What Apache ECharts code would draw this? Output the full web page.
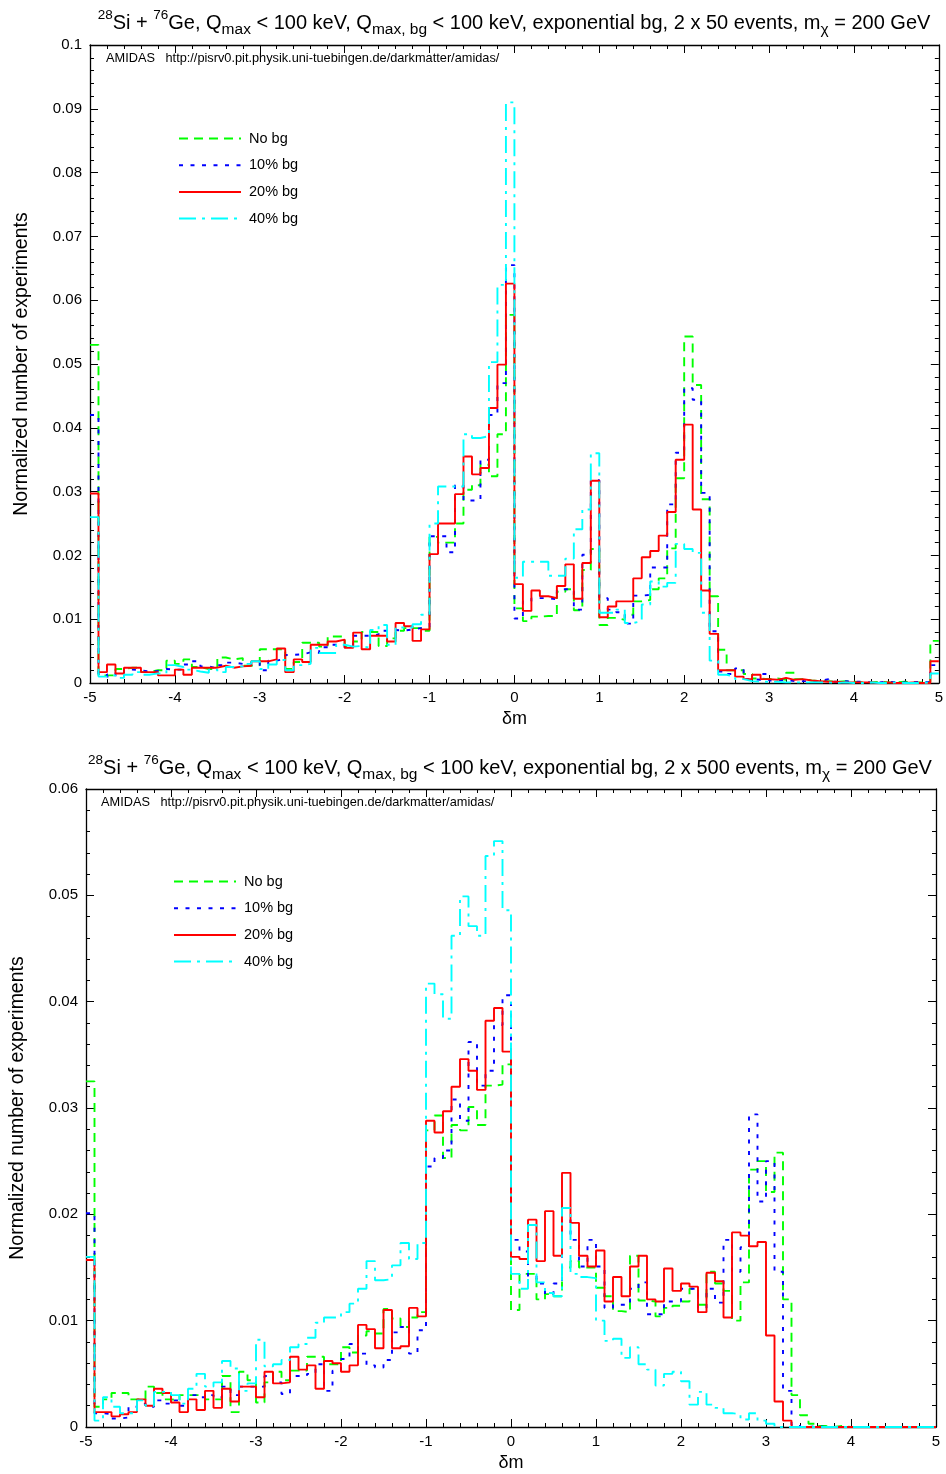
<!DOCTYPE html>
<html>
<head>
    <meta charset="utf-8" />
    <title>AMIDAS delta m</title>
    <script src="https://cdn.jsdelivr.net/npm/echarts@6/dist/echarts.min.js"></script>
    <style>
        html, body { margin: 0; padding: 0; background: #fff; }
        #chart { width: 946px; height: 1474px; }
    </style>
</head>
<body>
<div id="chart"></div>
<script>
    // bins: 100 bins of width 0.1 from -5 to 5
    var binLo = -5, binHi = 5, binW = 0.1;
    var legendNames = ['No bg', '10% bg', '20% bg', '40% bg'];
    var xTicks = [-5, -4, -3, -2, -1, 0, 1, 2, 3, 4, 5];

    // ---- upper panel: 2 x 50 events ----
    var top_nobg = [
        0.0530, 0.0012, 0.0012, 0.0022, 0.0024, 0.0024, 0.0017, 0.0020, 0.0020, 0.0035,
        0.0030, 0.0037, 0.0025, 0.0022, 0.0022, 0.0040, 0.0037, 0.0039, 0.0027, 0.0028,
        0.0053, 0.0053, 0.0053, 0.0022, 0.0033, 0.0063, 0.0063, 0.0057, 0.0073, 0.0073,
        0.0058, 0.0065, 0.0080, 0.0080, 0.0058, 0.0070, 0.0082, 0.0086, 0.0086, 0.0082,
        0.0229, 0.0220, 0.0220, 0.0250, 0.0303, 0.0310, 0.0342, 0.0324, 0.0390, 0.0577,
        0.0117, 0.0097, 0.0104, 0.0105, 0.0105, 0.0143, 0.0147, 0.0114, 0.0177, 0.0210,
        0.0091, 0.0102, 0.0099, 0.0107, 0.0128, 0.0130, 0.0147, 0.0164, 0.0211, 0.0321,
        0.0543, 0.0467, 0.0288, 0.0136, 0.0052, 0.0020, 0.0020, 0.0014, 0.0007, 0.0006,
        0.0007, 0.0005, 0.0016, 0.0006, 0.0004, 0.0003, 0.0003, 0.0002, 0.0003, 0.0002,
        0.0001, 0.0001, 0.0002, 0.0001, 0.0001, 0.0002, 0.0001, 0.0001, 0.0002, 0.0066
    ];
    var top_bg10 = [
        0.0420, 0.0014, 0.0010, 0.0016, 0.0021, 0.0020, 0.0018, 0.0019, 0.0022, 0.0021,
        0.0021, 0.0029, 0.0034, 0.0026, 0.0023, 0.0028, 0.0032, 0.0030, 0.0028, 0.0032,
        0.0020, 0.0035, 0.0038, 0.0044, 0.0045, 0.0048, 0.0047, 0.0056, 0.0060, 0.0060,
        0.0056, 0.0074, 0.0074, 0.0076, 0.0082, 0.0083, 0.0082, 0.0084, 0.0086, 0.0088,
        0.0230, 0.0230, 0.0205, 0.0310, 0.0286, 0.0286, 0.0350, 0.0420, 0.0470, 0.0655,
        0.0101, 0.0128, 0.0133, 0.0133, 0.0131, 0.0147, 0.0147, 0.0115, 0.0201, 0.0318,
        0.0133, 0.0115, 0.0111, 0.0093, 0.0137, 0.0138, 0.0181, 0.0181, 0.0280, 0.0361,
        0.0462, 0.0444, 0.0298, 0.0081, 0.0018, 0.0014, 0.0023, 0.0006, 0.0005, 0.0014,
        0.0004, 0.0005, 0.0003, 0.0003, 0.0003, 0.0003, 0.0006, 0.0002, 0.0003, 0.0002,
        0.0002, 0.0001, 0.0001, 0.0002, 0.0001, 0.0001, 0.0001, 0.0002, 0.0001, 0.0028
    ];
    var top_bg20 = [
        0.0297, 0.0017, 0.0029, 0.0015, 0.0024, 0.0024, 0.0017, 0.0017, 0.0012, 0.0012,
        0.0021, 0.0013, 0.0024, 0.0024, 0.0024, 0.0027, 0.0024, 0.0026, 0.0027, 0.0034,
        0.0034, 0.0037, 0.0054, 0.0017, 0.0037, 0.0033, 0.0060, 0.0060, 0.0065, 0.0068,
        0.0055, 0.0079, 0.0053, 0.0074, 0.0074, 0.0065, 0.0094, 0.0089, 0.0066, 0.0084,
        0.0202, 0.0250, 0.0250, 0.0296, 0.0355, 0.0327, 0.0337, 0.0431, 0.0499, 0.0626,
        0.0155, 0.0113, 0.0145, 0.0136, 0.0133, 0.0152, 0.0186, 0.0132, 0.0188, 0.0317,
        0.0103, 0.0120, 0.0128, 0.0128, 0.0164, 0.0197, 0.0207, 0.0231, 0.0268, 0.0350,
        0.0405, 0.0272, 0.0145, 0.0077, 0.0020, 0.0020, 0.0010, 0.0006, 0.0013, 0.0006,
        0.0005, 0.0008, 0.0005, 0.0006, 0.0004, 0.0003, 0.0002, 0.0002, 0.0001, 0.0001,
        0.0001, 0.0001, 0.0000, 0.0001, 0.0000, 0.0000, 0.0001, 0.0000, 0.0000, 0.0034
    ];
    var top_bg40 = [
        0.0260, 0.0010, 0.0012, 0.0008, 0.0013, 0.0017, 0.0013, 0.0015, 0.0015, 0.0028,
        0.0025, 0.0021, 0.0018, 0.0016, 0.0021, 0.0017, 0.0025, 0.0026, 0.0030, 0.0034,
        0.0022, 0.0029, 0.0036, 0.0020, 0.0028, 0.0030, 0.0055, 0.0047, 0.0047, 0.0060,
        0.0057, 0.0058, 0.0055, 0.0083, 0.0091, 0.0060, 0.0087, 0.0087, 0.0092, 0.0107,
        0.0250, 0.0308, 0.0308, 0.0308, 0.0390, 0.0384, 0.0387, 0.0503, 0.0624, 0.0910,
        0.0165, 0.0190, 0.0190, 0.0190, 0.0168, 0.0168, 0.0195, 0.0241, 0.0272, 0.0360,
        0.0110, 0.0110, 0.0115, 0.0094, 0.0097, 0.0123, 0.0159, 0.0151, 0.0157, 0.0218,
        0.0210, 0.0204, 0.0110, 0.0035, 0.0013, 0.0010, 0.0006, 0.0003, 0.0002, 0.0002,
        0.0002, 0.0001, 0.0001, 0.0001, 0.0001, 0.0001, 0.0001, 0.0000, 0.0001, 0.0000,
        0.0000, 0.0001, 0.0000, 0.0000, 0.0001, 0.0000, 0.0000, 0.0000, 0.0001, 0.0015
    ];

    // ---- lower panel: 2 x 500 events ----
    var bot_nobg = [
        0.0325, 0.0019, 0.0026, 0.0032, 0.0032, 0.0026, 0.0026, 0.0038, 0.0032, 0.0026,
        0.0025, 0.0030, 0.0030, 0.0030, 0.0026, 0.0026, 0.0048, 0.0014, 0.0052, 0.0044,
        0.0023, 0.0042, 0.0052, 0.0044, 0.0053, 0.0053, 0.0066, 0.0066, 0.0059, 0.0059,
        0.0075, 0.0070, 0.0086, 0.0090, 0.0088, 0.0111, 0.0102, 0.0094, 0.0103, 0.0108,
        0.0279, 0.0293, 0.0253, 0.0284, 0.0279, 0.0301, 0.0284, 0.0321, 0.0322, 0.0341,
        0.0110, 0.0144, 0.0144, 0.0120, 0.0125, 0.0123, 0.0150, 0.0156, 0.0150, 0.0150,
        0.0131, 0.0123, 0.0109, 0.0108, 0.0161, 0.0119, 0.0118, 0.0104, 0.0112, 0.0114,
        0.0118, 0.0130, 0.0115, 0.0146, 0.0135, 0.0128, 0.0100, 0.0136, 0.0242, 0.0250,
        0.0221, 0.0258, 0.0120, 0.0030, 0.0011, 0.0003, 0.0001, 0.0000, 0.0001, 0.0000,
        0.0000, 0.0000, 0.0000, 0.0000, 0.0000, 0.0000, 0.0000, 0.0000, 0.0000, 0.0000
    ];
    var bot_bg10 = [
        0.0201, 0.0013, 0.0012, 0.0008, 0.0009, 0.0019, 0.0022, 0.0019, 0.0025, 0.0022,
        0.0025, 0.0020, 0.0030, 0.0028, 0.0030, 0.0028, 0.0038, 0.0030, 0.0038, 0.0038,
        0.0038, 0.0048, 0.0042, 0.0031, 0.0048, 0.0048, 0.0050, 0.0059, 0.0034, 0.0053,
        0.0064, 0.0078, 0.0069, 0.0058, 0.0056, 0.0063, 0.0089, 0.0094, 0.0069, 0.0091,
        0.0245, 0.0253, 0.0260, 0.0308, 0.0288, 0.0362, 0.0321, 0.0335, 0.0378, 0.0406,
        0.0176, 0.0165, 0.0142, 0.0135, 0.0125, 0.0135, 0.0195, 0.0176, 0.0151, 0.0176,
        0.0151, 0.0112, 0.0115, 0.0115, 0.0130, 0.0136, 0.0106, 0.0106, 0.0118, 0.0118,
        0.0130, 0.0130, 0.0112, 0.0130, 0.0117, 0.0176, 0.0146, 0.0169, 0.0294, 0.0212,
        0.0250, 0.0146, 0.0034, 0.0002, 0.0000, 0.0001, 0.0000, 0.0000, 0.0000, 0.0000,
        0.0000, 0.0000, 0.0000, 0.0000, 0.0000, 0.0000, 0.0000, 0.0000, 0.0000, 0.0000
    ];
    var bot_bg20 = [
        0.0157, 0.0014, 0.0014, 0.0010, 0.0012, 0.0014, 0.0026, 0.0020, 0.0036, 0.0032,
        0.0023, 0.0014, 0.0026, 0.0016, 0.0034, 0.0018, 0.0036, 0.0024, 0.0038, 0.0038,
        0.0028, 0.0052, 0.0041, 0.0042, 0.0066, 0.0054, 0.0058, 0.0036, 0.0062, 0.0060,
        0.0052, 0.0058, 0.0096, 0.0092, 0.0074, 0.0110, 0.0074, 0.0076, 0.0112, 0.0104,
        0.0288, 0.0277, 0.0297, 0.0320, 0.0346, 0.0335, 0.0317, 0.0382, 0.0394, 0.0353,
        0.0160, 0.0158, 0.0195, 0.0156, 0.0203, 0.0161, 0.0239, 0.0192, 0.0161, 0.0151,
        0.0166, 0.0118, 0.0141, 0.0123, 0.0151, 0.0161, 0.0120, 0.0118, 0.0149, 0.0128,
        0.0135, 0.0132, 0.0108, 0.0145, 0.0137, 0.0103, 0.0183, 0.0180, 0.0170, 0.0174,
        0.0086, 0.0024, 0.0006, 0.0000, 0.0000, 0.0000, 0.0000, 0.0000, 0.0000, 0.0000,
        0.0000, 0.0000, 0.0000, 0.0000, 0.0000, 0.0000, 0.0000, 0.0000, 0.0000, 0.0000
    ];
    var bot_bg40 = [
        0.0160, 0.0006, 0.0028, 0.0019, 0.0013, 0.0013, 0.0025, 0.0020, 0.0033, 0.0033,
        0.0030, 0.0022, 0.0036, 0.0050, 0.0038, 0.0042, 0.0062, 0.0055, 0.0034, 0.0041,
        0.0082, 0.0057, 0.0059, 0.0063, 0.0075, 0.0078, 0.0084, 0.0098, 0.0103, 0.0103,
        0.0108, 0.0116, 0.0130, 0.0156, 0.0138, 0.0139, 0.0152, 0.0173, 0.0158, 0.0173,
        0.0417, 0.0407, 0.0384, 0.0462, 0.0499, 0.0471, 0.0462, 0.0537, 0.0551, 0.0486,
        0.0144, 0.0130, 0.0190, 0.0136, 0.0126, 0.0123, 0.0206, 0.0144, 0.0141, 0.0140,
        0.0100, 0.0081, 0.0083, 0.0065, 0.0075, 0.0059, 0.0054, 0.0039, 0.0050, 0.0052,
        0.0043, 0.0021, 0.0033, 0.0021, 0.0018, 0.0013, 0.0012, 0.0007, 0.0013, 0.0006,
        0.0003, 0.0000, 0.0000, 0.0000, 0.0000, 0.0000, 0.0000, 0.0000, 0.0000, 0.0000,
        0.0000, 0.0000, 0.0000, 0.0000, 0.0000, 0.0000, 0.0000, 0.0000, 0.0000, 0.0000
    ];

    var FONT = 'Liberation Sans';
    var colors = ['#00ff00', '#0000ff', '#ff0000', '#00ffff'];
    var dashes = [[9, 6], [4, 7.5], 'solid', [17, 6, 3, 6]];

    // histogram as step line: left bin edges + closing point at the last edge
    function steps(vals) {
        var pts = vals.map(function (v, i) {
            return [+(binLo + i * binW).toFixed(2), v];
        });
        pts.push([binHi, vals[vals.length - 1]]);
        return pts;
    }

    function histSeries(name, idx, vals, axisIdx) {
        return {
            name: name,
            type: 'line',
            step: 'end',
            xAxisIndex: axisIdx,
            yAxisIndex: axisIdx,
            data: steps(vals),
            symbol: 'none',
            showSymbol: false,
            silent: true,
            animation: false,
            lineStyle: { color: colors[idx], width: 1.9, type: dashes[idx] },
            itemStyle: { color: colors[idx] }
        };
    }

    function xAx(grid, main) {
        return {
            type: 'value', gridIndex: grid, min: binLo, max: binHi, interval: 1,
            position: main ? 'bottom' : 'top',
            name: main ? 'δm' : '', nameLocation: 'middle', nameGap: 27,
            nameTextStyle: { fontFamily: FONT, fontSize: 18, color: '#000' },
            axisLine: { show: true, onZero: false, lineStyle: { color: '#000', width: 1.3 } },
            axisTick: { show: true, inside: true, length: 8, lineStyle: { color: '#000' } },
            minorTick: { show: true, splitNumber: 5, length: 4, lineStyle: { color: '#000' } },
            axisLabel: { show: main, fontFamily: FONT, fontSize: 15, color: '#000', margin: 7,
                         formatter: function (v) { return xTicks.indexOf(v) >= 0 ? String(v) : ''; } },
            splitLine: { show: false }
        };
    }

    function yAx(grid, main, ymax) {
        return {
            type: 'value', gridIndex: grid, min: 0, max: ymax, interval: 0.01,
            position: main ? 'left' : 'right',
            name: main ? 'Normalized number of experiments' : '', nameLocation: 'middle', nameGap: 58,
            nameTextStyle: { fontFamily: FONT, fontSize: 19.5, color: '#000' },
            axisLine: { show: true, onZero: false, lineStyle: { color: '#000', width: 1.3 } },
            axisTick: { show: true, inside: true, length: 8, lineStyle: { color: '#000' } },
            minorTick: { show: true, splitNumber: 5, length: 4, lineStyle: { color: '#000' } },
            axisLabel: { show: main, fontFamily: FONT, fontSize: 15, color: '#000', margin: 8,
                         formatter: function (v) { return String(+v.toFixed(3)); } },
            splitLine: { show: false }
        };
    }

    var richTitle = {
        n: { fontFamily: FONT, fontSize: 20, fontWeight: 'normal', color: '#000', lineHeight: 30 },
        sup: { fontFamily: FONT, fontSize: 13.5, fontWeight: 'normal', color: '#000', verticalAlign: 'top', lineHeight: 15 },
        sub: { fontFamily: FONT, fontSize: 15.5, fontWeight: 'normal', color: '#000', verticalAlign: 'bottom', lineHeight: 10 }
    };
    function titleText(events) {
        return '{sup|28}{n|Si + }{sup|76}{n|Ge, Q}{sub|max}{n| < 100 keV, Q}{sub|max, bg}' +
            '{n| < 100 keV, exponential bg, 2 x ' + events + ' events, m}{sub|χ}{n| = 200 GeV}';
    }
    var amidas = 'AMIDAS   http://pisrv0.pit.physik.uni-tuebingen.de/darkmatter/amidas/';
    var amidasStyle = { fontFamily: FONT, fontSize: 12.75, fontWeight: 'normal', color: '#000' };

    function legendAt(left, top) {
        return {
            data: legendNames, orient: 'vertical', left: left, top: top, padding: 0,
            itemWidth: 62, itemHeight: 14, itemGap: 11.7,
            itemStyle: { opacity: 0 },
            textStyle: { fontFamily: FONT, fontSize: 14.5, color: '#000', padding: [0, 0, 0, 3] },
            selectedMode: false
        };
    }

    var chart = echarts.init(document.getElementById('chart'), null, { renderer: 'canvas' });
    var option = {
        backgroundColor: '#fff',
        animation: false,
        title: [
            { text: titleText(50), left: 514, top: 8, padding: 0, textAlign: 'center', textStyle: { rich: richTitle } },
            { text: titleText(500), left: 510, top: 753, padding: 0, textAlign: 'center', textStyle: { rich: richTitle } },
            { text: amidas, left: 106, top: 52, padding: 0, textStyle: amidasStyle },
            { text: amidas, left: 101, top: 796, padding: 0, textStyle: amidasStyle }
        ],
        legend: [legendAt(178, 131), legendAt(173, 874)],
        grid: [
            { left: 90, top: 45, width: 850, height: 638 },
            { left: 85, top: 789, width: 851, height: 638 }
        ],
        xAxis: [xAx(0, true), xAx(0, false), xAx(1, true), xAx(1, false)],
        yAxis: [yAx(0, true, 0.1), yAx(0, false, 0.1), yAx(1, true, 0.06), yAx(1, false, 0.06)],
        series: [
            histSeries(legendNames[0], 0, top_nobg, 0),
            histSeries(legendNames[1], 1, top_bg10, 0),
            histSeries(legendNames[2], 2, top_bg20, 0),
            histSeries(legendNames[3], 3, top_bg40, 0),
            histSeries(legendNames[0], 0, bot_nobg, 2),
            histSeries(legendNames[1], 1, bot_bg10, 2),
            histSeries(legendNames[2], 2, bot_bg20, 2),
            histSeries(legendNames[3], 3, bot_bg40, 2)
        ]
    };
    chart.setOption(option);
</script>
</body>
</html>
